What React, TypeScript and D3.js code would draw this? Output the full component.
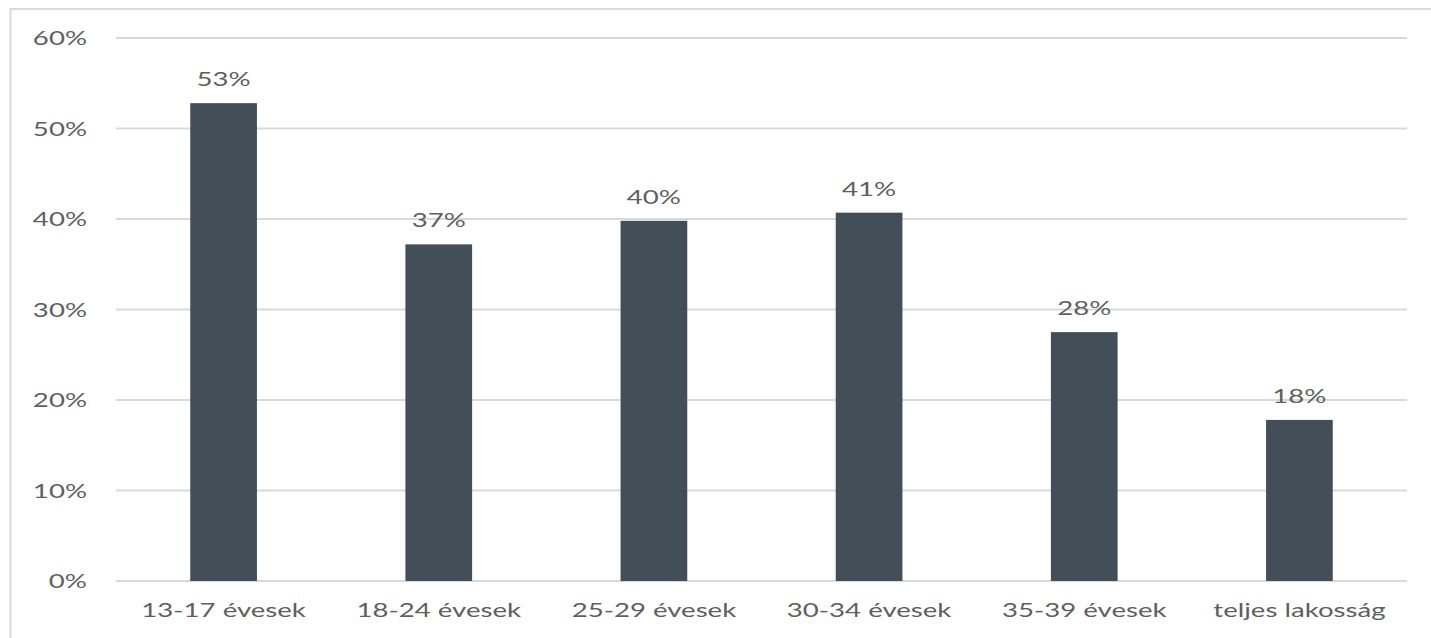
import { useEffect } from "react";
import * as d3 from "d3";

const categories = ["13-17 évesek", "18-24 évesek", "25-29 évesek", "30-34 évesek", "35-39 évesek", "teljes lakosság"];
const values = [52.8, 37.2, 39.8, 40.7, 27.5, 17.8];
const labels = ["53%", "37%", "40%", "41%", "28%", "18%"];
const yTicks = [0, 10, 20, 30, 40, 50, 60];

const W = 1431;
const H = 638;
const barColor = "#434f58";
const textColor = "#5f5f5f";
const gridColor = "#d9d9d9";
const font = "Lato, 'Open Sans', sans-serif";
const sx = 1.38; // text in the picture is stretched sideways

export default function App() {
  useEffect(() => {
    document.body.style.margin = "0";
  }, []);

  const x = d3
    .scaleBand<string>()
    .domain(categories)
    .range([116, 1407])
    .paddingInner(0.69)
    .paddingOuter(0.345);
  const y = d3.scaleLinear().domain([0, 60]).range([581, 38]);

  const txt = (tx: number, ty: number, s: string, anchor: string) => (
    <text
      transform={`translate(${tx},${ty}) scale(${sx},1)`}
      textAnchor={anchor}
      fontFamily={font}
      fontSize={20}
      fill={textColor}
    >
      {s}
    </text>
  );

  return (
    <svg width={W} height={H} style={{ display: "block" }}>
      <rect x={0} y={0} width={W} height={H} fill="#fff" />
      {/* chart frame, cut off at right and bottom */}
      <path d={`M10.5,${H} V9 H${W}`} fill="none" stroke={gridColor} strokeWidth={2} />

      {yTicks.map((t) => (
        <g key={t}>
          <line x1={116} x2={1407} y1={y(t)} y2={y(t)} stroke={gridColor} strokeWidth={2} />
          {txt(87, y(t) + 7, `${t}%`, "end")}
        </g>
      ))}

      {categories.map((c, i) => {
        const bx = x(c)!;
        const cx = bx + x.bandwidth() / 2;
        return (
          <g key={c}>
            <rect x={bx} y={y(values[i])} width={x.bandwidth()} height={y(0) - y(values[i])} fill={barColor} />
            {txt(cx, y(values[i]) - 17, labels[i], "middle")}
            {txt(cx, 617, c, "middle")}
          </g>
        );
      })}
    </svg>
  );
}
